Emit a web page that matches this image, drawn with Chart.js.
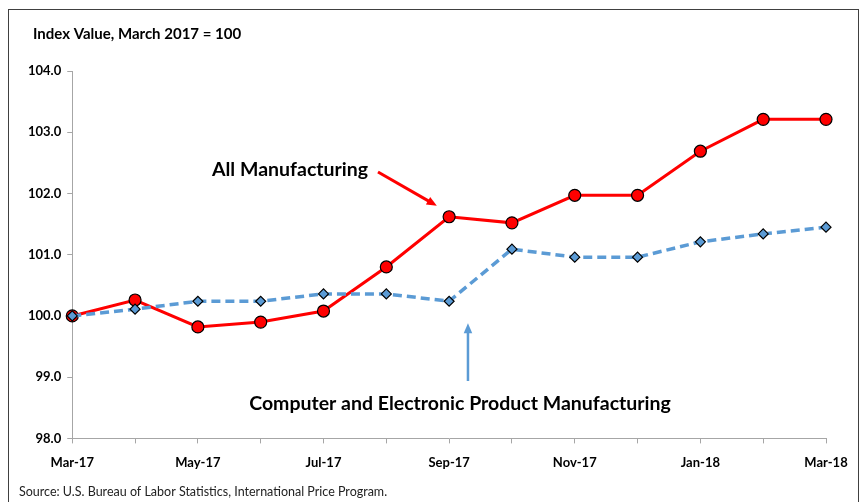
<!DOCTYPE html>
<html>
<head>
<meta charset="utf-8">
<script src="https://cdn.jsdelivr.net/npm/chart.js@4.4.0/dist/chart.umd.min.js"></script>
<style>
  html, body { margin: 0; padding: 0; background: #fff; }
  #wrap { width: 866px; height: 502px; position: relative; }
</style>
</head>
<body>
<div id="wrap"><canvas id="ipChart" width="866" height="502"></canvas></div>
<script>
// ================= DATA =================
const months = ['Mar-17','Apr-17','May-17','Jun-17','Jul-17','Aug-17','Sep-17','Oct-17','Nov-17','Dec-17','Jan-18','Feb-18','Mar-18'];
const allManufacturing = [100.0, 100.26, 99.82, 99.9, 100.08, 100.8, 101.62, 101.52, 101.97, 101.97, 102.69, 103.21, 103.21];
const computerElectronic = [100.0, 100.11, 100.24, 100.24, 100.36, 100.36, 100.24, 101.09, 100.96, 100.96, 101.21, 101.34, 101.45];
const yTicks = [98, 99, 100, 101, 102, 103, 104];

const fontFam = "Lato, 'Open Sans', sans-serif";
const axisGray = '#a6a6a6';

// draws frame, title, source and the two arrow callouts
const extrasPlugin = {
    id: 'extras',
    afterDraw(chart) {
        const ctx = chart.ctx;
        const xs = chart.scales.x, ys = chart.scales.y;
        ctx.save();

        // outer frame
        ctx.strokeStyle = '#404040';
        ctx.lineWidth = 1;
        ctx.strokeRect(8.5, 9.5, 850, 520);

        ctx.fillStyle = '#000';
        ctx.textBaseline = 'middle';
        ctx.textAlign = 'left';
        ctx.font = "bold 15px " + fontFam;
        ctx.fillText('Index Value, March 2017 = 100', 33, 34);

        ctx.font = "12.5px " + fontFam;
        ctx.fillStyle = '#222';
        ctx.fillText('Source: U.S. Bureau of Labor Statistics, International Price Program.', 19, 492);

        // All Manufacturing callout
        ctx.fillStyle = '#000';
        ctx.font = "bold 19.5px " + fontFam;
        ctx.fillText('All Manufacturing', 212, 170);
        drawArrow(ctx, 378, 172, xs.getPixelForValue(5.9) - 6, ys.getPixelForValue(101.62) - 11, '#ff0000', 3);

        // Computer callout
        ctx.fillStyle = '#000';
        ctx.textAlign = 'center';
        ctx.fillText('Computer and Electronic Product Manufacturing', 460, 404);
        const ax = xs.getPixelForValue(6.3);
        drawArrow(ctx, ax, 381, ax, ys.getPixelForValue(100.24) + 22, '#5b9bd5', 2.5);

        ctx.restore();
    }
};

function drawArrow(ctx, x1, y1, x2, y2, color, w) {
    const ang = Math.atan2(y2 - y1, x2 - x1);
    const head = 11;
    ctx.save();
    ctx.strokeStyle = color;
    ctx.fillStyle = color;
    ctx.lineWidth = w;
    ctx.beginPath();
    ctx.moveTo(x1, y1);
    ctx.lineTo(x2 - Math.cos(ang) * head * 0.8, y2 - Math.sin(ang) * head * 0.8);
    ctx.stroke();
    ctx.beginPath();
    ctx.moveTo(x2, y2);
    ctx.lineTo(x2 - head * Math.cos(ang - 0.4), y2 - head * Math.sin(ang - 0.4));
    ctx.lineTo(x2 - head * Math.cos(ang + 0.4), y2 - head * Math.sin(ang + 0.4));
    ctx.closePath();
    ctx.fill();
    ctx.restore();
}

new Chart(document.getElementById('ipChart'), {
    type: 'line',
    data: {
        labels: months,
        datasets: [
            {
                label: 'All Manufacturing',
                data: allManufacturing,
                borderColor: '#ff0000',
                borderWidth: 3,
                pointStyle: 'circle',
                pointRadius: 6,
                pointBackgroundColor: '#ff0000',
                pointBorderColor: '#000',
                pointBorderWidth: 1.2,
                tension: 0,
                order: 1
            },
            {
                label: 'Computer and Electronic Product Manufacturing',
                data: computerElectronic,
                borderColor: '#5b9bd5',
                borderWidth: 3.5,
                borderDash: [9, 5],
                pointStyle: 'rectRot',
                pointRadius: 5,
                pointBackgroundColor: '#5b9bd5',
                pointBorderColor: '#000',
                pointBorderWidth: 1.2,
                tension: 0,
                order: 0
            }
        ]
    },
    options: {
        responsive: false,
        animation: false,
        layout: { padding: { top: 71, right: 40, left: 22, bottom: 19 } },
        plugins: {
            legend: { display: false },
            tooltip: { enabled: false }
        },
        scales: {
            x: {
                offset: false,
                border: { color: axisGray, width: 1 },
                grid: { display: true, drawOnChartArea: false, drawTicks: true, tickLength: 5, color: axisGray },
                ticks: {
                    autoSkip: false,
                    maxRotation: 0,
                    padding: 12,
                    color: '#000',
                    font: { family: fontFam, size: 13, weight: 'bold' },
                    callback: (v, i) => (i % 2 === 0 ? months[i] : '')
                }
            },
            y: {
                min: yTicks[0],
                max: yTicks[yTicks.length - 1],
                afterBuildTicks: (s) => { s.ticks = yTicks.map(v => ({ value: v })); },
                border: { color: axisGray, width: 1 },
                grid: { display: true, drawOnChartArea: false, drawTicks: true, tickLength: 5, color: axisGray },
                ticks: {
                    padding: 6,
                    color: '#000',
                    font: { family: fontFam, size: 13, weight: 'bold' },
                    callback: (v) => Number(v).toFixed(1)
                }
            }
        }
    },
    plugins: [extrasPlugin]
});
</script>
</body>
</html>
